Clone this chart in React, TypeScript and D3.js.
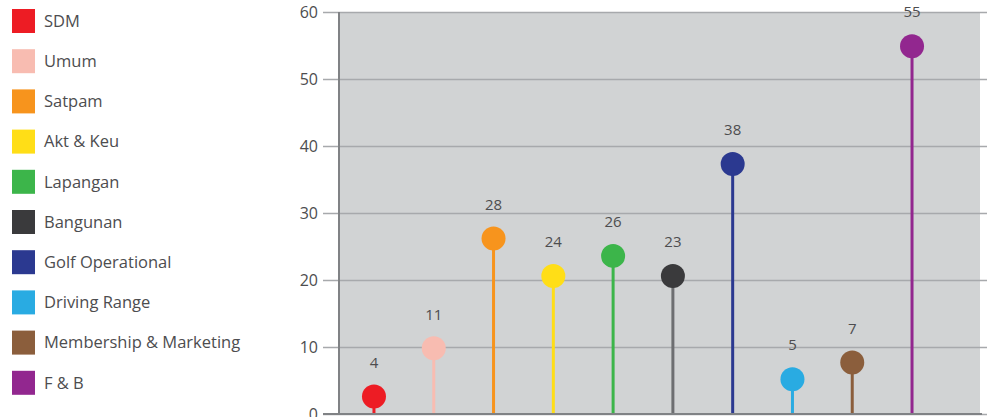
import { useEffect, useRef } from "react";
import * as d3 from "d3";

const WIDTH = 987;
const HEIGHT = 417;

// Categories, shown in the legend and along the x axis
const categories = [
  "SDM",
  "Umum",
  "Satpam",
  "Akt & Keu",
  "Lapangan",
  "Bangunan",
  "Golf Operational",
  "Driving Range",
  "Membership & Marketing",
  "F & B",
];

// Where each marker sits on the y axis
const values = [2.6, 9.8, 26.2, 20.6, 23.6, 20.6, 37.3, 5.2, 7.7, 54.9];

// Label printed above each marker
const labels = ["4", "11", "28", "24", "26", "23", "38", "5", "7", "55"];

const colors = [
  "#ed1c24",
  "#f8bcb1",
  "#f7941d",
  "#ffde17",
  "#3cb54a",
  "#3a3a3c",
  "#2b3990",
  "#29abe2",
  "#8b5e3c",
  "#92278f",
];
const stemColors = [...colors];
stemColors[5] = "#6d6e71";

const yTicks = [0, 10, 20, 30, 40, 50, 60];

const margin = { top: 12, right: 5, bottom: 3, left: 339 };
const FONT = "'Open Sans', sans-serif";

export default function App() {
  const ref = useRef<SVGSVGElement>(null);

  useEffect(() => {
    const svg = d3.select(ref.current);
    svg.selectAll("*").remove();

    const w = WIDTH - margin.left - margin.right;
    const h = HEIGHT - margin.top - margin.bottom;

    const x = d3
      .scalePoint<string>()
      .domain(categories)
      .range([0, w - 35])
      .padding(0.585);

    const y = d3.scaleLinear().domain([0, 60]).range([h, 0]);

    // Legend
    const legend = svg
      .append("g")
      .selectAll("g")
      .data(categories)
      .join("g")
      .attr("transform", (_, i) => `translate(12, ${9 + i * 40.2})`);

    legend
      .append("rect")
      .attr("width", 23)
      .attr("height", 24)
      .attr("fill", (_, i) => colors[i]);

    legend
      .append("text")
      .attr("x", 32)
      .attr("y", 12)
      .attr("dy", "0.35em")
      .attr("font-family", FONT)
      .attr("font-size", 16.5)
      .attr("fill", "#4d4d4f")
      .text((d) => d);

    const g = svg
      .append("g")
      .attr("transform", `translate(${margin.left},${margin.top})`);

    // Plot background
    g.append("rect")
      .attr("width", w - 2)
      .attr("height", h)
      .attr("fill", "#d1d3d4");

    // Grid lines + y axis
    const yAxis = g
      .append("g")
      .call(
        d3
          .axisLeft(y)
          .tickValues(yTicks)
          .tickSize(-w - 16)
          .tickPadding(6)
          .tickFormat(d3.format("d"))
      );
    yAxis.select(".domain").remove();
    yAxis
      .selectAll(".tick line")
      .attr("x1", -16)
      .attr("stroke", "#a7a9ac")
      .attr("stroke-width", 1.5);
    yAxis
      .selectAll(".tick text")
      .attr("x", -21)
      .attr("font-family", FONT)
      .attr("font-size", 16)
      .attr("fill", "#4d4d4f");

    // Left axis line
    g.append("line")
      .attr("x1", 0)
      .attr("x2", 0)
      .attr("y1", 0)
      .attr("y2", h)
      .attr("stroke", "#808285")
      .attr("stroke-width", 2);

    // Lollipops
    const pops = g
      .append("g")
      .selectAll("g")
      .data(categories)
      .join("g")
      .attr("transform", (d) => `translate(${x(d)},0)`);

    pops
      .append("line")
      .attr("y1", (_, i) => y(values[i]))
      .attr("y2", h)
      .attr("stroke", (_, i) => stemColors[i])
      .attr("stroke-width", 3);

    pops
      .append("circle")
      .attr("cy", (_, i) => y(values[i]))
      .attr("r", 12)
      .attr("fill", (_, i) => colors[i]);

    pops
      .append("text")
      .attr("y", (_, i) => y(values[i]) - 34)
      .attr("dy", "0.35em")
      .attr("text-anchor", "middle")
      .attr("font-family", FONT)
      .attr("font-size", 15)
      .attr("fill", "#4d4d4f")
      .text((_, i) => labels[i]);

    // Baseline
    g.append("line")
      .attr("x1", -16)
      .attr("x2", w)
      .attr("y1", h)
      .attr("y2", h)
      .attr("stroke", "#808285")
      .attr("stroke-width", 2);
  }, []);

  return (
    <svg
      ref={ref}
      width={WIDTH}
      height={HEIGHT}
      style={{ position: "absolute", left: 0, top: 0, background: "#fff" }}
    />
  );
}
